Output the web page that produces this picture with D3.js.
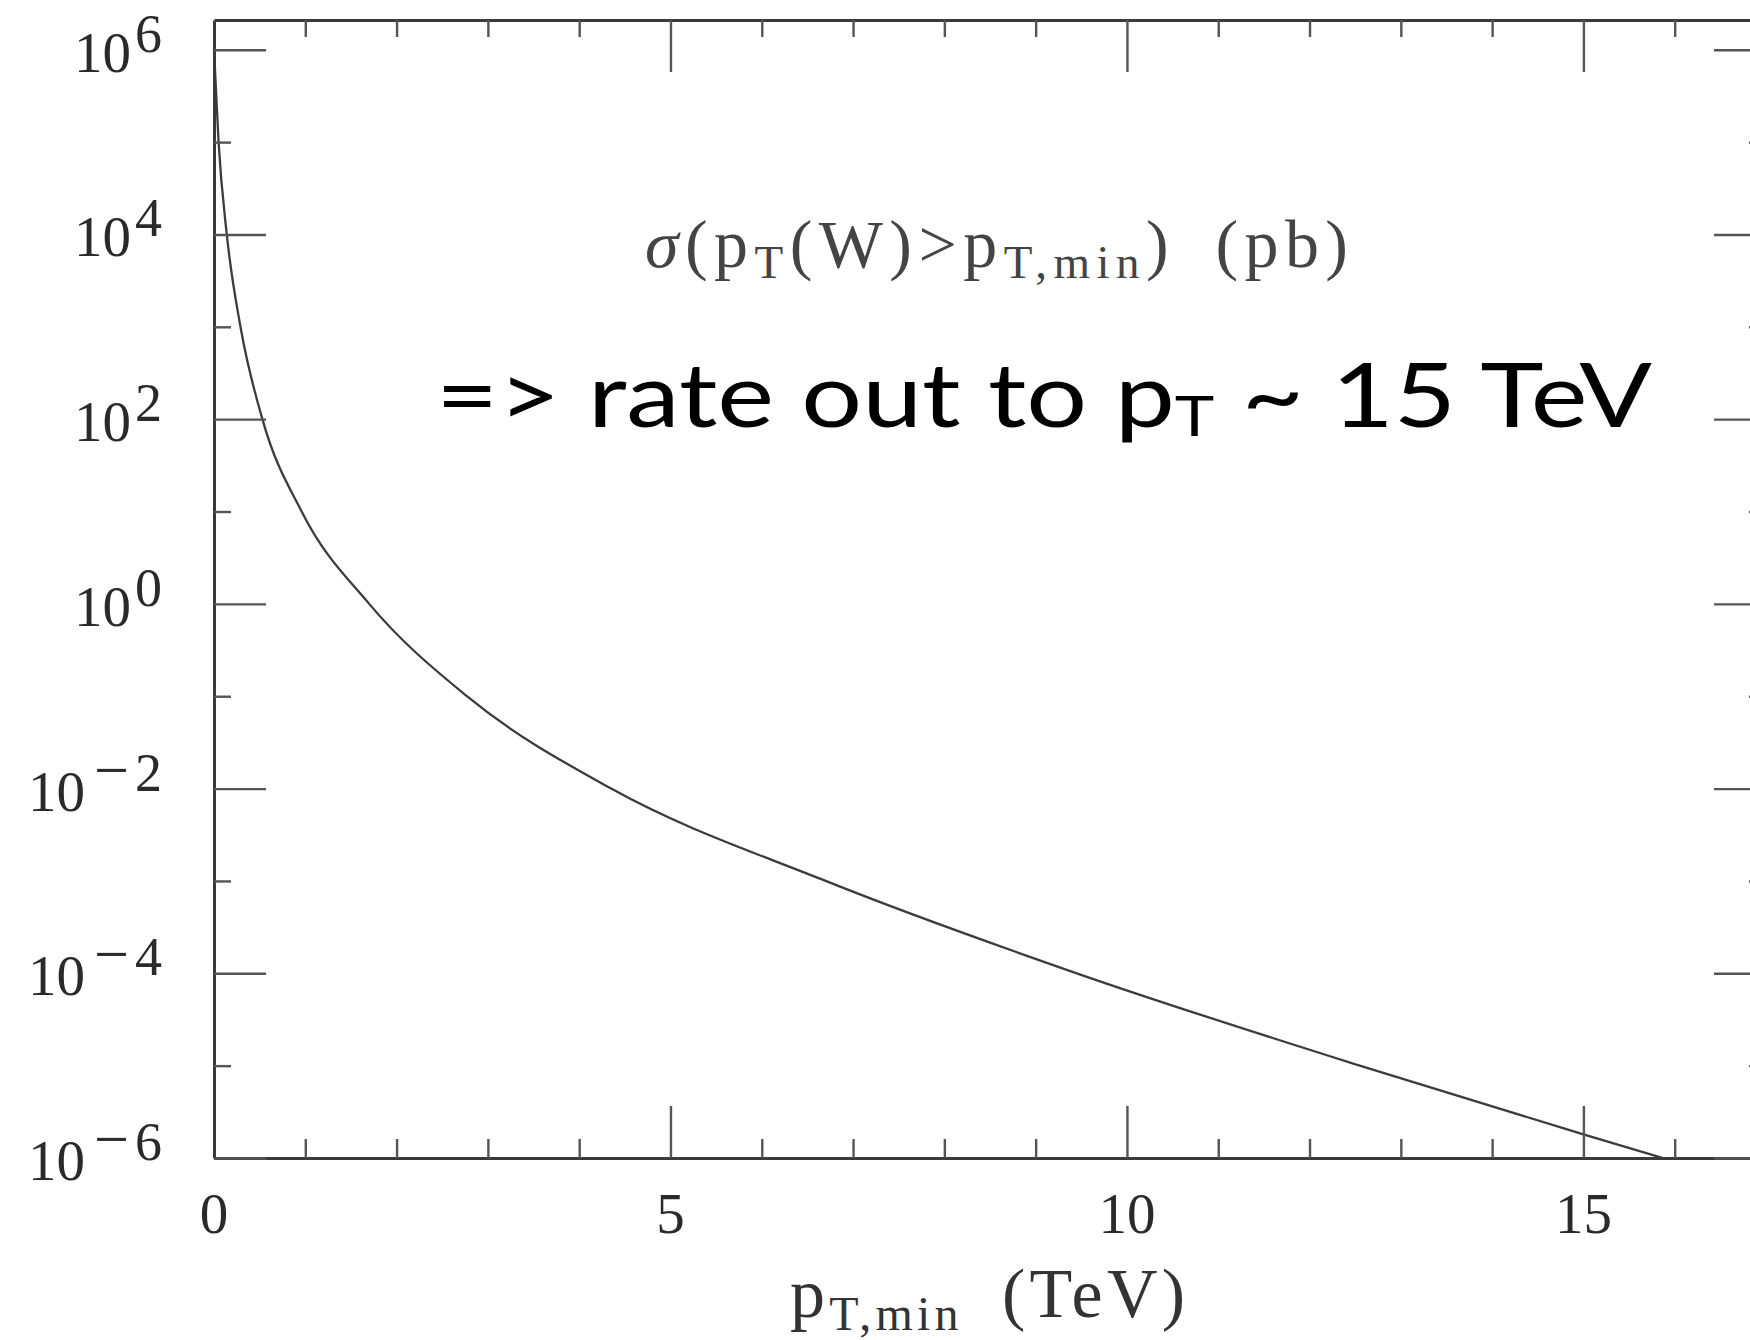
<!DOCTYPE html>
<html>
<head>
<meta charset="utf-8">
<script src="https://cdn.jsdelivr.net/npm/d3@7/dist/d3.min.js"></script>
<style>
  html, body { margin: 0; padding: 0; background: #fff; }
  svg { display: block; }
</style>
</head>
<body>
<div id="chart"></div>
<script>
// sigma(pT(W) > pT,min) in pb
var ptMin = [0, 0.05, 0.14, 0.29, 0.53, 0.96, 1.70, 2.77, 4.35, 6.70, 9.45, 12.55, 15.0, 15.87];
var sigmaPb = [1e6, 1e5, 1e4, 1e3, 100, 10, 1.0, 0.10, 0.010, 1.0e-3, 1.0e-4, 1.0e-5, 1.8e-6, 1.0e-6];

var xMajorTicks = [0, 5, 10, 15];
var xMinorTicks = [1, 2, 3, 4, 6, 7, 8, 9, 11, 12, 13, 14, 16];
var yMajorTicks = [1e-6, 1e-4, 1e-2, 1e0, 1e2, 1e4, 1e6];
var yMajorExp = [-6, -4, -2, 0, 2, 4, 6];
var yMinorTicks = [1e-5, 1e-3, 1e-1, 1e1, 1e3, 1e5];

var width = 1750, height = 1340;
var plotLeft = 214, plotRight = 1766, plotTop = 20, plotBottom = 1158;
var serif = '"Liberation Serif", "Times New Roman", serif';

var svg = d3.select('#chart').append('svg')
    .attr('width', width)
    .attr('height', height);

var x = d3.scaleLinear().domain([0, 17]).range([plotLeft, plotRight]);
var y = d3.scaleLog().domain([1e-6, 2.1e6]).range([plotBottom, plotTop]);

// curve
var line = d3.line()
    .x(function (d, i) { return x(ptMin[i]); })
    .y(function (d) { return y(d); })
    .curve(d3.curveMonotoneX);

svg.append('path')
    .attr('d', line(sigmaPb))
    .attr('fill', 'none')
    .attr('stroke', '#3c3c3c')
    .attr('stroke-width', 2.3);

// axes: major + minor on all four sides, ticks pointing inward
function styleAxis(g, keepDomain) {
    if (!keepDomain) g.select('.domain').remove();
    else g.select('.domain').attr('stroke', '#3a3a3a').attr('stroke-width', 3);
    g.selectAll('.tick line').attr('stroke', '#555').attr('stroke-width', 2.4);
    g.selectAll('.tick text').remove();
}

svg.append('g').attr('transform', 'translate(0,' + plotBottom + ')')
    .call(d3.axisBottom(x).tickValues(xMajorTicks).tickSizeInner(-52).tickSizeOuter(0))
    .call(styleAxis, true);
svg.append('g').attr('transform', 'translate(0,' + plotBottom + ')')
    .call(d3.axisBottom(x).tickValues(xMinorTicks).tickSizeInner(-19).tickSizeOuter(0))
    .call(styleAxis, false);
svg.append('g').attr('transform', 'translate(0,' + plotTop + ')')
    .call(d3.axisTop(x).tickValues(xMajorTicks.slice(1)).tickSizeInner(-52).tickSizeOuter(0))
    .call(styleAxis, true);
svg.append('g').attr('transform', 'translate(0,' + plotTop + ')')
    .call(d3.axisTop(x).tickValues(xMinorTicks).tickSizeInner(-17).tickSizeOuter(0))
    .call(styleAxis, false);
svg.append('g').attr('transform', 'translate(' + plotLeft + ',0)')
    .call(d3.axisLeft(y).tickValues(yMajorTicks).tickSizeInner(-52).tickSizeOuter(0))
    .call(styleAxis, true);
svg.append('g').attr('transform', 'translate(' + plotLeft + ',0)')
    .call(d3.axisLeft(y).tickValues(yMinorTicks).tickSizeInner(-17).tickSizeOuter(0))
    .call(styleAxis, false);
svg.append('g').attr('transform', 'translate(' + plotRight + ',0)')
    .call(d3.axisRight(y).tickValues(yMajorTicks).tickSizeInner(-52).tickSizeOuter(0))
    .call(styleAxis, true);
svg.append('g').attr('transform', 'translate(' + plotRight + ',0)')
    .call(d3.axisRight(y).tickValues(yMinorTicks).tickSizeInner(-17).tickSizeOuter(0))
    .call(styleAxis, false);

// x tick labels
svg.append('g').selectAll('text')
    .data(xMajorTicks)
    .join('text')
    .attr('x', function (d) { return x(d); })
    .attr('y', 1233)
    .attr('text-anchor', 'middle')
    .attr('font-family', serif)
    .attr('font-size', 57)
    .attr('fill', '#2a2a2a')
    .text(function (d) { return d; });

// y tick labels: 10^n
var yLab = svg.append('g').selectAll('text')
    .data(yMajorTicks)
    .join('text')
    .attr('x', 162)
    .attr('y', function (d) { return y(d) + 22; })
    .attr('text-anchor', 'end')
    .attr('font-family', serif)
    .attr('font-size', 57)
    .attr('fill', '#2a2a2a');
yLab.append('tspan').text('10');
yLab.each(function (d, i) {
    var t = d3.select(this);
    var e = yMajorExp[i];
    if (e < 0) {
        t.append('tspan').attr('dx', 9).attr('dy', -20).attr('font-size', 62).text('\u2212');
        t.append('tspan').attr('dx', 6).attr('font-size', 54).text(String(-e));
    } else {
        t.append('tspan').attr('dx', 4).attr('dy', -20).attr('font-size', 54).text(String(e));
    }
});

// x axis title
var xt = svg.append('text')
    .attr('x', 790)
    .attr('y', 1317)
    .attr('font-family', serif)
    .attr('font-size', 70)
    .attr('fill', '#333')
    .attr('textLength', 395)
    .attr('lengthAdjust', 'spacing');
xt.append('tspan').text('p');
xt.append('tspan').attr('font-size', 48).attr('dy', 13).text('T,min');
xt.append('tspan').attr('dy', -13).text('\u2002(TeV)');

// in-plot label
var tt = svg.append('text')
    .attr('x', 645)
    .attr('y', 267)
    .attr('font-family', serif)
    .attr('font-size', 68)
    .attr('fill', '#444')
    .attr('textLength', 703)
    .attr('lengthAdjust', 'spacing');
tt.append('tspan').attr('font-style', 'italic').text('\u03c3');
tt.append('tspan').text('(p');
tt.append('tspan').attr('font-size', 47).attr('dy', 11).text('T');
tt.append('tspan').attr('dy', -11).text('(W)>p');
tt.append('tspan').attr('font-size', 47).attr('dy', 11).text('T,min');
tt.append('tspan').attr('dy', -11).text(')\u2002(pb)');

// annotation
var an = svg.append('text')
    .attr('x', 436)
    .attr('y', 427)
    .attr('font-family', 'Lato, "Open Sans", sans-serif')
    .attr('font-size', 90)
    .attr('fill', '#000')
    .attr('textLength', 1216)
    .attr('lengthAdjust', 'spacingAndGlyphs');
an.append('tspan').text('=> rate out to p');
an.append('tspan').attr('font-size', 56).attr('dy', 9).text('T');
an.append('tspan').attr('dy', -9).text(' ~ 15 TeV');
</script>
</body>
</html>
